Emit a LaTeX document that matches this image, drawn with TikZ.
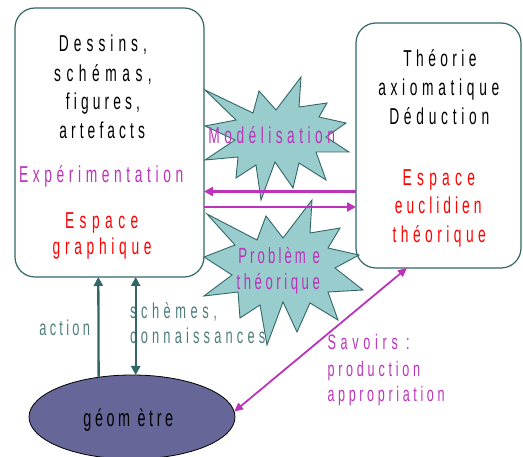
\documentclass[tikz,border=0pt]{standalone}
\usepackage{fontspec}
\setmainfont{Liberation Sans}
\newfontfamily\nf[FakeStretch=0.6]{Liberation Sans}
\newcommand\tfsz[2]{\fontsize{#1}{#1}\selectfont\addfontfeatures{LetterSpace=#2}}
\usetikzlibrary{arrows.meta,shapes.geometric}
\definecolor{tealB}{HTML}{336666}
\definecolor{tealT}{HTML}{4F7D7D}
\definecolor{starF}{HTML}{99CCCC}
\definecolor{mag}{HTML}{BB33BB}
\definecolor{ellF}{HTML}{666699}
\begin{document}
\begin{tikzpicture}[x=1pt,y=-1pt,
  txt/.style={inner sep=0pt, anchor=base},
  ts/.style 2 args={font=\nf\tfsz{#1}{#2}},
  lefttxt/.style={txt, anchor=base west},
  boxsty/.style={draw=tealB, line width=1.2pt, rounded corners=20pt, rectangle, inner sep=0pt, outer sep=0pt},
  starsty/.style={draw=tealB, fill=starF, line width=0.9pt, line join=miter},
  magarr/.style={draw=mag, line width=2.3pt, -{Triangle[length=9pt,width=9pt]}},
  magarr2/.style={draw=mag, line width=1.8pt, {Triangle[length=9pt,width=8pt]}-{Triangle[length=9pt,width=8pt]}},
  tarr/.style={draw=tealB, line width=2.3pt, -{Triangle[length=9pt,width=9pt]}},
  tarr2/.style={draw=tealB, line width=2.3pt, {Triangle[length=9pt,width=9pt]}-{Triangle[length=9pt,width=9pt]}}
]
\useasboundingbox (0,0) rectangle (523,457);

% stars
\draw[starsty] (205,90) -- (253,113) -- (259,91) -- (276,110) -- (301,77) -- (299,107) -- (327,103) -- (319,117) -- (346,123) -- (326,137) -- (349,152) -- (316,152) -- (326,180) -- (299,163) -- (293,188) -- (275,162) -- (261,200) -- (256,165) -- (236,178) -- (238,157) -- (205,160) -- (235,140) -- (205,126) -- (236,120) -- cycle;
\draw[starsty] (207,214) -- (257,240) -- (266,216) -- (283,238) -- (312,200) -- (310,233) -- (340,228) -- (328,248) -- (359,255) -- (335,268) -- (363,290) -- (328,292) -- (338,320) -- (310,303) -- (297,332) -- (283,302) -- (267,345) -- (260,305) -- (240,318) -- (238,292) -- (204,296) -- (232,275) -- (204,257) -- (235,245) -- cycle;

% boxes
\node[boxsty, minimum width=189pt, minimum height=269pt] (L) at (109.5,142.5) {};
\node[boxsty, minimum width=165pt, minimum height=245pt] (R) at (438.5,145.5) {};
\node[ellipse, draw=black, fill=ellF, line width=0.8pt, minimum width=206pt, minimum height=84pt, inner sep=0pt, outer sep=0pt] (G) at (132,417) {};

% left box text
\node[txt, ts={23}{21.8}] (l1) at (103,52) {Dessins,};
\node[txt, ts={23}{24}] (l2) at (103,81.5) {schémas,};
\node[txt, ts={23}{17.9}] (l3) at (103,110) {figures,};
\node[txt, ts={23}{17.8}] (l4) at (102.2,139) {artefacts};
\node[txt, ts={23}{20}, text=mag] (l5) at (101.2,183) {Expérimentation};
\node[txt, ts={23}{23.7}, text=red] (l6) at (101.7,229) {Espace};
\node[txt, ts={23}{20.4}, text=red] (l7) at (102.2,255) {graphique};

% right box text
\node[txt, ts={23}{19.2}] (r1) at (440,66.5) {Théorie};
\node[txt, ts={23}{20.3}] (r2) at (438.8,96) {axiomatique};
\node[txt, ts={23}{20.6}] (r3) at (439.3,125) {Déduction};
\node[txt, ts={23}{22.9}, text=red] (r4) at (438.8,185.5) {Espace};
\node[txt, ts={23}{17.5}, text=red] (r5) at (438.3,214) {euclidien};
\node[txt, ts={23}{19.4}, text=red] (r6) at (439.3,242.5) {théorique};

% star texts
\node[txt, ts={23}{19.4}, text=mag] (m1) at (271.7,144) {Modélisation};
\node[txt, ts={22}{14}, text=mag] (p1) at (279.2,263.5) {Problèm e};
\node[txt, ts={22}{16}, text=mag] (p2) at (278.3,290) {théorique};

% other labels
\node[txt, ts={21.5}{15.2}, text=tealT] (a1) at (64.7,336) {action};
\node[lefttxt, ts={21.5}{20.9}, text=tealT] (s1) at (130,318.5) {schèmes,};
\node[lefttxt, ts={21.5}{19.3}, text=tealT] (s2) at (130,343.5) {connaissances};
\node[txt, ts={24}{14.8}] (g1) at (128.3,426.5) {géom ètre};
\node[lefttxt, ts={21}{22.5}, text=mag] (v1) at (327.3,350) {Savoirs :};
\node[lefttxt, ts={21}{17.9}, text=mag] (v2) at (327.3,376.5) {production};
\node[lefttxt, ts={21}{17.3}, text=mag] (v3) at (327.3,401.5) {appropriation};

% connectors
\coordinate (y1) at (0,191.5);
\coordinate (y2) at (0,207);
\coordinate (xa) at (98.3,0);
\coordinate (xb) at (135.7,0);
\coordinate (xc) at (407,0);
\draw[magarr] (R.west |- y1) -- (L.east |- y1);
\draw[magarr] (L.east |- y2) -- (R.west |- y2);
\draw[tarr] (G.130.7) -- (L.south -| xa);
\draw[tarr2] (G.north -| xb) -- (L.south -| xb);
\draw[magarr2] (G.3) -- (R.south -| xc);
\end{tikzpicture}
\end{document}
